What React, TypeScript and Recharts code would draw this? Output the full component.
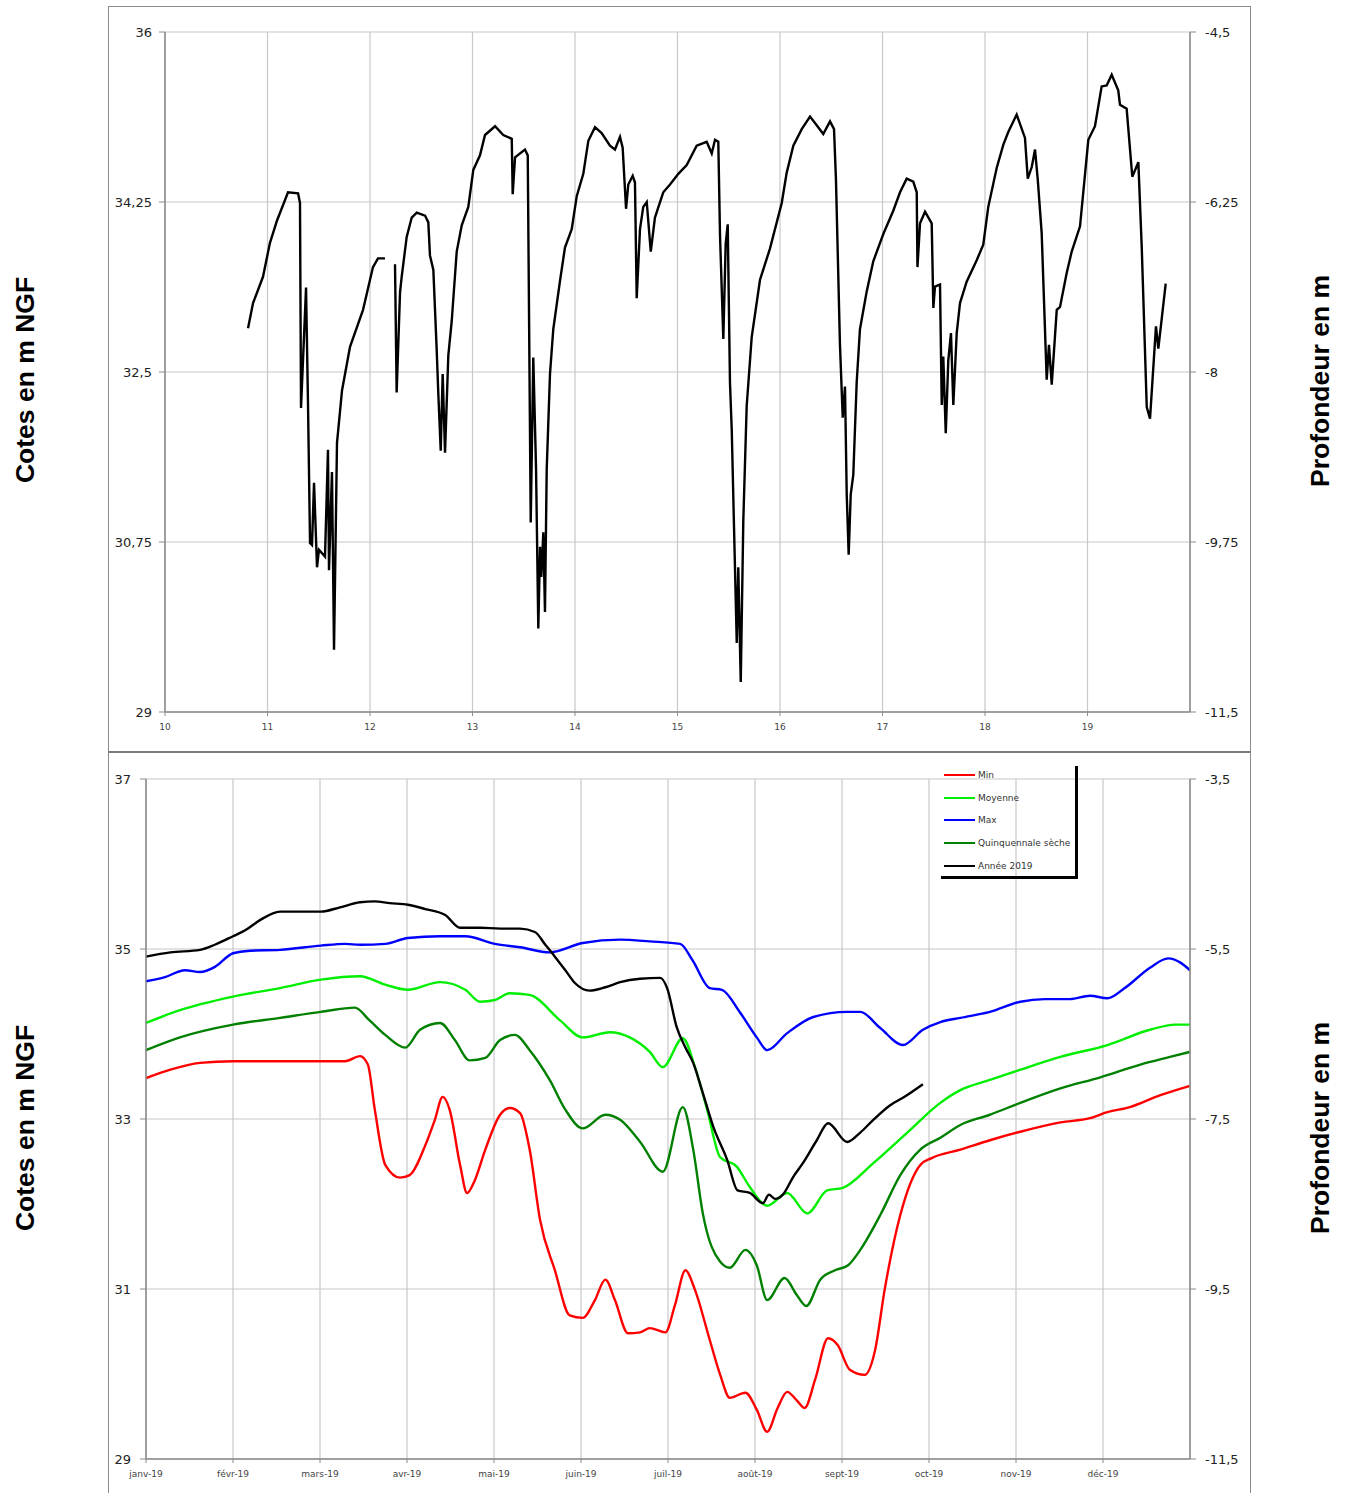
import React from "react";
import { LineChart, Line, XAxis, YAxis, CartesianGrid } from "recharts";

// ---- top chart: water level 2010-2019 (x = year, 10 -> 2010) ----
const histYears = [
  10.81, 10.859, 10.956, 11.024, 11.093, 11.171, 11.2, 11.298, 11.317, 11.327, 11.376, 11.395, 11.415, 11.434, 11.454,
  11.483, 11.502, 11.561, 11.59, 11.6, 11.629, 11.649, 11.678, 11.727, 11.805, 11.932, 12.029, 12.078, 12.146, 12.19,
  12.244, 12.26, 12.293, 12.309, 12.358, 12.407, 12.456, 12.537, 12.569, 12.585, 12.618, 12.651, 12.666, 12.69, 12.709,
  12.732, 12.764, 12.797, 12.846, 12.895, 12.959, 13.008, 13.073, 13.122, 13.22, 13.3, 13.383, 13.392, 13.415, 13.512,
  13.539, 13.568, 13.593, 13.62, 13.642, 13.659, 13.671, 13.691, 13.707, 13.724, 13.756, 13.788, 13.854, 13.902, 13.968,
  14.017, 14.081, 14.13, 14.195, 14.26, 14.341, 14.39, 14.439, 14.465, 14.498, 14.52, 14.563, 14.585, 14.602, 14.634,
  14.666, 14.7, 14.739, 14.78, 14.861, 14.927, 15.008, 15.09, 15.187, 15.285, 15.334, 15.366, 15.398, 15.415, 15.447,
  15.47, 15.49, 15.512, 15.529, 15.551, 15.578, 15.593, 15.617, 15.642, 15.675, 15.724, 15.805, 15.902, 16.017, 16.065,
  16.13, 16.212, 16.293, 16.358, 16.422, 16.488, 16.527, 16.546, 16.585, 16.612, 16.634, 16.651, 16.67, 16.69, 16.715,
  16.748, 16.78, 16.846, 16.91, 17.008, 17.105, 17.171, 17.236, 17.3, 17.334, 17.341, 17.366, 17.415, 17.48, 17.496,
  17.512, 17.561, 17.578, 17.593, 17.617, 17.642, 17.668, 17.691, 17.724, 17.756, 17.821, 17.919, 17.983, 18.032, 18.114,
  18.179, 18.227, 18.309, 18.39, 18.417, 18.456, 18.488, 18.514, 18.553, 18.602, 18.624, 18.651, 18.7, 18.732, 18.797,
  18.846, 18.927, 19.008, 19.073, 19.138, 19.187, 19.236, 19.3, 19.317, 19.382, 19.437, 19.496, 19.529, 19.578, 19.61,
  19.668, 19.691, 19.763,
];
const histLevels = [
  32.95, 33.21, 33.48, 33.83, 34.06, 34.27, 34.35, 34.34, 34.24, 32.13, 33.37, 32.18, 30.74, 30.72, 31.36,
  30.49, 30.67, 30.6, 31.7, 30.46, 31.47, 29.64, 31.77, 32.31, 32.76, 33.14, 33.58, 33.67, 33.67, null,
  33.61, 32.29, 33.32, 33.48, 33.89, 34.09, 34.14, 34.11, 34.04, 33.7, 33.55, 32.72, 32.29, 31.69, 32.48,
  31.67, 32.67, 33.02, 33.74, 34.01, 34.2, 34.58, 34.73, 34.94, 35.03, 34.94, 34.9, 34.33, 34.71, 34.79,
  34.73, 30.95, 32.65, 31.5, 29.86, 30.7, 30.39, 30.85, 30.03, 31.5, 32.48, 32.94, 33.44, 33.78, 33.97,
  34.31, 34.54, 34.88, 35.02, 34.96, 34.83, 34.79, 34.92, 34.81, 34.18, 34.43, 34.52, 34.45, 33.26, 33.97,
  34.2, 34.25, 33.74, 34.09, 34.35, 34.43, 34.54, 34.63, 34.83, 34.87, 34.75, 34.89, 34.87, 33.9, 32.84,
  33.82, 34.02, 32.39, 31.91, 30.92, 29.71, 30.49, 29.31, 30.97, 32.15, 32.86, 33.45, 33.77, 34.24, 34.55,
  34.83, 35.0, 35.13, 35.04, 34.95, 35.08, 35.0, 34.48, 32.78, 32.03, 32.35, 31.24, 30.62, 31.24, 31.44,
  32.39, 32.94, 33.33, 33.64, 33.92, 34.16, 34.35, 34.49, 34.46, 34.35, 33.58, 34.03, 34.15, 34.03, 33.16,
  33.38, 33.4, 32.16, 32.66, 31.87, 32.62, 32.9, 32.16, 32.9, 33.21, 33.43, 33.65, 33.81, 34.2, 34.6,
  34.84, 34.97, 35.15, 34.91, 34.49, 34.61, 34.79, 34.49, 33.93, 32.42, 32.78, 32.37, 33.14, 33.17, 33.52,
  33.74, 34.0, 34.89, 35.03, 35.44, 35.45, 35.56, 35.4, 35.25, 35.21, 34.51, 34.66, 33.79, 32.14, 32.02,
  32.97, 32.74, 33.41,
];
const histYearTicks = [10, 11, 12, 13, 14, 15, 16, 17, 18, 19];
const histLevelTicks = [29, 30.75, 32.5, 34.25, 36];
const histDepthTicks = [-11.5, -9.75, -8, -6.25, -4.5];

// ground level (m NGF): depth = level - groundLevel
const groundLevel = 40.5;

// ---- bottom chart: 2019 vs statistics (x = month index, 0 = janv) ----
const monthLabels = ["janv-19", "févr-19", "mars-19", "avr-19", "mai-19", "juin-19", "juil-19", "août-19", "sept-19", "oct-19", "nov-19", "déc-19"];
const monthTicks = [0, 1, 2, 3, 4, 5, 6, 7, 8, 9, 10, 11];
const yearLevelTicks = [29, 31, 33, 35, 37];
const yearDepthTicks = [-11.5, -9.5, -7.5, -5.5, -3.5];

const minMonths = [0, 0.28, 0.62, 1, 1.54, 2.01, 2.29, 2.46, 2.55, 2.63, 2.75, 2.92, 3.03, 3.21, 3.32, 3.41, 3.49, 3.61, 3.69, 3.78, 3.9, 4.07, 4.18, 4.3, 4.41, 4.53, 4.7, 4.87, 5.02, 5.16, 5.28, 5.39, 5.54, 5.68, 5.79, 5.97, 6.08, 6.2, 6.31, 6.48, 6.6, 6.71, 6.89, 7.02, 7.14, 7.26, 7.37, 7.48, 7.57, 7.69, 7.84, 7.95, 8.09, 8.26, 8.38, 8.49, 8.67, 8.9, 9.03, 9.36, 9.7, 10.05, 10.51, 10.85, 11.05, 11.31, 11.66, 12];
const minLevels = [33.48, 33.58, 33.66, 33.68, 33.68, 33.68, 33.68, 33.74, 33.64, 33.11, 32.46, 32.31, 32.34, 32.69, 32.99, 33.26, 33.11, 32.46, 32.13, 32.28, 32.64, 33.05, 33.13, 33.07, 32.64, 31.81, 31.22, 30.69, 30.66, 30.87, 31.11, 30.87, 30.48, 30.49, 30.54, 30.49, 30.81, 31.22, 30.99, 30.4, 29.99, 29.72, 29.78, 29.58, 29.32, 29.6, 29.79, 29.69, 29.6, 29.93, 30.42, 30.34, 30.05, 29.99, 30.28, 30.99, 31.87, 32.46, 32.54, 32.64, 32.75, 32.85, 32.96, 33.01, 33.08, 33.14, 33.28, 33.39];

const meanMonths = [0, 0.39, 1, 1.54, 2.01, 2.46, 2.75, 3.01, 3.38, 3.67, 3.84, 4.01, 4.18, 4.41, 4.76, 5.02, 5.33, 5.56, 5.79, 5.94, 6.17, 6.31, 6.45, 6.6, 6.79, 6.94, 7.14, 7.37, 7.6, 7.83, 8.01, 8.36, 8.75, 9.13, 9.36, 9.7, 10.05, 10.51, 11.05, 11.54, 11.83, 12];
const meanLevels = [34.13, 34.28, 34.44, 34.54, 34.64, 34.68, 34.58, 34.52, 34.61, 34.52, 34.38, 34.4, 34.48, 34.46, 34.16, 33.96, 34.02, 33.96, 33.79, 33.61, 33.95, 33.61, 33.11, 32.55, 32.44, 32.2, 31.98, 32.13, 31.89, 32.16, 32.19, 32.48, 32.84, 33.19, 33.34, 33.46, 33.58, 33.73, 33.87, 34.05, 34.11, 34.11];

const maxMonths = [0, 0.218, 0.448, 0.621, 0.793, 1, 1.195, 1.54, 2.01, 2.29, 2.46, 2.75, 3.01, 3.38, 3.67, 4.01, 4.3, 4.64, 5.02, 5.45, 5.79, 6.14, 6.28, 6.48, 6.62, 6.83, 7.02, 7.14, 7.37, 7.67, 8.06, 8.21, 8.44, 8.7, 8.93, 9.13, 9.36, 9.7, 10.05, 10.33, 10.62, 10.85, 11.05, 11.25, 11.54, 11.75, 11.89, 12];
const maxLevels = [34.62, 34.67, 34.75, 34.73, 34.79, 34.95, 34.98, 34.99, 35.04, 35.06, 35.05, 35.06, 35.13, 35.15, 35.15, 35.06, 35.02, 34.96, 35.07, 35.11, 35.09, 35.06, 34.87, 34.54, 34.52, 34.25, 33.96, 33.81, 34.01, 34.2, 34.26, 34.26, 34.07, 33.87, 34.05, 34.14, 34.19, 34.26, 34.38, 34.41, 34.41, 34.45, 34.42, 34.54, 34.78, 34.89, 34.84, 34.75];

const dryMonths = [0, 0.39, 1, 1.54, 2.01, 2.4, 2.57, 2.75, 2.98, 3.15, 3.38, 3.55, 3.72, 3.9, 4.07, 4.24, 4.41, 4.64, 4.82, 5.02, 5.28, 5.45, 5.68, 5.94, 6.17, 6.29, 6.4, 6.6, 6.71, 6.89, 7.02, 7.14, 7.34, 7.48, 7.59, 7.75, 7.92, 8.07, 8.21, 8.44, 8.67, 8.9, 9.13, 9.36, 9.7, 10.05, 10.51, 10.97, 11.43, 11.77, 12];
const dryLevels = [33.81, 33.96, 34.11, 34.19, 34.26, 34.31, 34.16, 33.99, 33.84, 34.05, 34.13, 33.93, 33.69, 33.72, 33.93, 33.99, 33.81, 33.46, 33.11, 32.89, 33.05, 32.99, 32.73, 32.38, 33.14, 32.64, 31.89, 31.32, 31.25, 31.46, 31.28, 30.87, 31.13, 30.93, 30.8, 31.11, 31.22, 31.28, 31.46, 31.87, 32.34, 32.64, 32.78, 32.93, 33.05, 33.19, 33.36, 33.49, 33.64, 33.73, 33.79];

const y2019Months = [0, 0.28, 0.62, 0.79, 1, 1.14, 1.31, 1.54, 2.01, 2.23, 2.46, 2.63, 2.8, 3.01, 3.21, 3.44, 3.61, 3.84, 4.07, 4.3, 4.47, 4.59, 4.7, 4.82, 4.93, 5.1, 5.28, 5.45, 5.68, 5.91, 5.99, 6.1, 6.2, 6.29, 6.39, 6.52, 6.68, 6.8, 6.94, 7.09, 7.16, 7.23, 7.32, 7.44, 7.55, 7.71, 7.84, 8.06, 8.21, 8.36, 8.55, 8.7, 8.93];
const y2019Levels = [34.91, 34.96, 34.99, 35.05, 35.15, 35.22, 35.34, 35.44, 35.44, 35.49, 35.55, 35.56, 35.54, 35.52, 35.47, 35.4, 35.25, 35.25, 35.24, 35.24, 35.2, 35.05, 34.91, 34.75, 34.6, 34.51, 34.55, 34.61, 34.65, 34.66, 34.54, 34.08, 33.84, 33.66, 33.34, 32.91, 32.52, 32.16, 32.13, 32.01, 32.11, 32.06, 32.11, 32.32, 32.48, 32.75, 32.95, 32.73, 32.84, 32.99, 33.16, 33.25, 33.41];

const toPoints = (xs: number[], ys: (number | null)[]) =>
  xs.map((x, i) => ({ x, y: ys[i], depth: ys[i] == null ? null : (ys[i] as number) - groundLevel }));
const comma = (v: number) => String(v).replace(".", ",");

const font = "'DejaVu Sans', Verdana, sans-serif";
const tickStyle = { fontSize: 13, fill: "#222", fontFamily: font };
const smallTick = { fontSize: 9, fill: "#444", fontFamily: font };
const axisLine = { stroke: "#8a8a8a", strokeWidth: 1.5 };

const series = [
  { name: "Min", color: "#ff0000", xs: minMonths, ys: minLevels },
  { name: "Moyenne", color: "#00ee00", xs: meanMonths, ys: meanLevels },
  { name: "Max", color: "#0000ff", xs: maxMonths, ys: maxLevels },
  { name: "Quinquennale sèche", color: "#008000", xs: dryMonths, ys: dryLevels },
  { name: "Année 2019", color: "#000000", xs: y2019Months, ys: y2019Levels },
];

function SideTitle({ x, y, text }: { x: number; y: number; text: string }) {
  return (
    <div
      style={{
        position: "absolute", left: x, top: y, transform: "translate(-50%, -50%) rotate(-90deg)",
        whiteSpace: "nowrap", fontFamily: "'Liberation Sans', Arial, sans-serif", fontWeight: "bold", fontSize: 26.5, color: "#000",
      }}
    >
      {text}
    </div>
  );
}

export default function App() {
  const histData = toPoints(histYears, histLevels);
  return (
    <div style={{ position: "absolute", left: 0, top: 0, width: 1349, height: 1493, background: "#fff", overflow: "hidden" }}>
      {/* frames */}
      <div style={{ position: "absolute", left: 108, top: 6, width: 1143, height: 746, border: "1px solid #8c8c8c", boxSizing: "border-box" }} />
      <div style={{ position: "absolute", left: 108, top: 751, width: 1143, height: 760, borderTop: "2px solid #7a7a7a", borderLeft: "1px solid #8c8c8c", borderRight: "1px solid #8c8c8c", boxSizing: "border-box" }} />

      <SideTitle x={25} y={380} text="Cotes en m NGF" />
      <SideTitle x={1320} y={381} text="Profondeur en m" />
      <SideTitle x={25} y={1128} text="Cotes en m NGF" />
      <SideTitle x={1320} y={1128} text="Profondeur en m" />

      {/* top chart */}
      <div style={{ position: "absolute", left: 108, top: 6 }}>
        <LineChart width={1143} height={746} data={histData} margin={{ top: 26, right: 0, bottom: 10, left: 0 }}>
          <CartesianGrid stroke="#c8c8c8" strokeWidth={1.2} yAxisId="l" />
          <XAxis dataKey="x" type="number" domain={[10, 20]} ticks={histYearTicks} height={30} tickSize={4} tickMargin={8}
            tick={smallTick} axisLine={axisLine} tickLine={{ stroke: "#8a8a8a" }} />
          <YAxis yAxisId="l" type="number" domain={[29, 36]} ticks={histLevelTicks} width={57} tickSize={6} tickMargin={7}
            tickFormatter={comma} tick={tickStyle} axisLine={axisLine} tickLine={{ stroke: "#8a8a8a" }} />
          <YAxis yAxisId="r" orientation="right" type="number" domain={[-11.5, -4.5]} ticks={histDepthTicks} width={61} tickSize={6} tickMargin={9}
            tickFormatter={comma} tick={tickStyle} axisLine={axisLine} tickLine={{ stroke: "#8a8a8a" }} allowDataOverflow />
          <Line yAxisId="r" dataKey="depth" type="linear" stroke="none" strokeWidth={0} dot={false} isAnimationActive={false} legendType="none" />
          <Line yAxisId="l" dataKey="y" type="linear" stroke="#000" strokeWidth={2.4} dot={false} isAnimationActive={false} />
        </LineChart>
      </div>

      {/* bottom chart */}
      <div style={{ position: "absolute", left: 108, top: 752 }}>
        <LineChart width={1143} height={741} margin={{ top: 27, right: 0, bottom: 9, left: 0 }}>
          <CartesianGrid stroke="#c8c8c8" strokeWidth={1.2} yAxisId="l" />
          <XAxis dataKey="x" type="number" domain={[0, 12]} ticks={monthTicks} height={25} tickSize={4} tickMargin={8}
            tickFormatter={(v: number) => monthLabels[v] ?? ""} tick={smallTick} axisLine={axisLine} tickLine={{ stroke: "#8a8a8a" }} />
          <YAxis yAxisId="l" type="number" domain={[29, 37]} ticks={yearLevelTicks} width={38} tickSize={6} tickMargin={9}
            tick={tickStyle} axisLine={axisLine} tickLine={{ stroke: "#8a8a8a" }} />
          <YAxis yAxisId="r" orientation="right" type="number" domain={[-11.5, -3.5]} ticks={yearDepthTicks} width={61} tickSize={6} tickMargin={9}
            tickFormatter={comma} tick={tickStyle} axisLine={axisLine} tickLine={{ stroke: "#8a8a8a" }} allowDataOverflow />
          <Line yAxisId="r" data={toPoints(y2019Months, y2019Levels)} dataKey="depth" type="monotone" stroke="none" strokeWidth={0}
            dot={false} isAnimationActive={false} legendType="none" />
          {series.map((s) => (
            <Line key={s.name} yAxisId="l" data={toPoints(s.xs, s.ys)} dataKey="y" name={s.name} type="monotone"
              stroke={s.color} strokeWidth={2.4} dot={false} isAnimationActive={false} />
          ))}
        </LineChart>
      </div>

      {/* legend */}
      <div style={{ position: "absolute", left: 941, top: 766, width: 137, height: 113, borderRight: "3px solid #000", borderBottom: "3px solid #000", boxSizing: "border-box" }}>
        {series.map((s, i) => (
          <div key={s.name} style={{ position: "absolute", left: 3, top: 3 + i * 22.7, height: 12, display: "flex", alignItems: "center", whiteSpace: "nowrap" }}>
            <div style={{ width: 31, height: 2, background: s.color }} />
            <span style={{ marginLeft: 3, fontSize: 9, color: "#333", fontFamily: font }}>{s.name}</span>
          </div>
        ))}
      </div>
    </div>
  );
}
